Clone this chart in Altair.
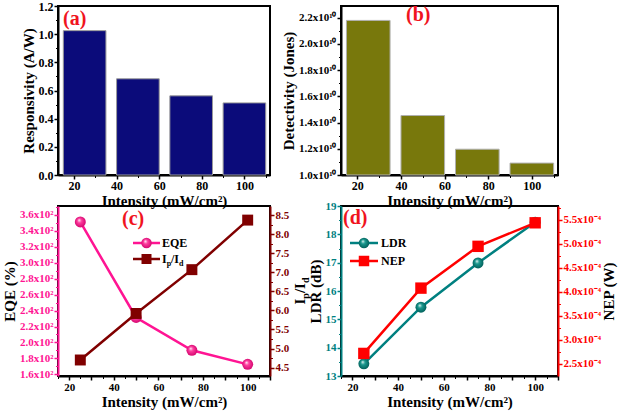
import altair as alt
import pandas as pd

# ---------------- data ----------------
bar_intensity = [25, 50, 75, 100]
responsivity = [1.025, 0.683, 0.562, 0.512]
detectivity = [2.18e10, 1.454e10, 1.197e10, 1.091e10]

line_intensity = [25, 50, 75, 100]
eqe = [351.0, 231.3, 190.2, 172.6]
ip_id = [4.70, 5.92, 7.07, 8.37]
ldr = [13.43, 15.43, 16.99, 18.43]
nep = [2.72e-4, 4.08e-4, 4.95e-4, 5.44e-4]

bar_ticks = [20, 40, 60, 80, 100]
bar_minor = [30, 50, 70, 90, 110]
line_ticks = [20, 30, 40, 50, 60, 70, 80, 90, 100, 110]
line_minor = [15, 25, 35, 45, 55, 65, 75, 85, 95, 105]
resp_ticks = [0.0, 0.2, 0.4, 0.6, 0.8, 1.0, 1.2]
resp_minor = [0.1, 0.3, 0.5, 0.7, 0.9, 1.1]
det_ticks = [1.0e10, 1.2e10, 1.4e10, 1.6e10, 1.8e10, 2.0e10, 2.2e10]
det_minor = [1.1e10, 1.3e10, 1.5e10, 1.7e10, 1.9e10, 2.1e10]
eqe_ticks = [160, 180, 200, 220, 240, 260, 280, 300, 320, 340, 360]
eqe_minor = [170, 190, 210, 230, 250, 270, 290, 310, 330, 350, 370]
ipid_ticks = [4.5, 5.0, 5.5, 6.0, 6.5, 7.0, 7.5, 8.0, 8.5]
ipid_minor = [4.75, 5.25, 5.75, 6.25, 6.75, 7.25, 7.75, 8.25]
ldr_ticks = [13, 14, 15, 16, 17, 18, 19]
ldr_minor = [13.5, 14.5, 15.5, 16.5, 17.5, 18.5]
nep_ticks = [2.5e-4, 3.0e-4, 3.5e-4, 4.0e-4, 4.5e-4, 5.0e-4, 5.5e-4]
nep_minor = [2.75e-4, 3.25e-4, 3.75e-4, 4.25e-4, 4.75e-4, 5.25e-4, 5.75e-4]

# ---------------- styles ----------------
SERIF = "Liberation Serif"
NAVY = "#0b0b7a"
OLIVE = "#78780c"
PINK = "#ff1493"
DARKRED = "#800000"
TEAL = "#008080"
RED = "#ff0000"
LABEL_RED = "#f0141e"

W1, W2 = 212, 217
H1, H2 = 169, 170
XTITLE = "Intensity (mW/cm²)"
BAR_DOMAIN = [12.5, 112]
LINE_DOMAIN = [15, 110]


def txt(s, x, y, size, color="black", angle=0, align="left", baseline="alphabetic"):
    return alt.Chart(pd.DataFrame({"t": [s]})).mark_text(
        font=SERIF, fontWeight="bold", fontSize=size, color=color,
        align=align, baseline=baseline, angle=angle
    ).encode(x=alt.value(x), y=alt.value(y), text="t:N")


def legend_row(x0, x1, y, color, shape, fill, size):
    df = pd.DataFrame({"k": [0]})
    rule = alt.Chart(df).mark_rule(color=color, strokeWidth=2.5).encode(
        x=alt.value(x0), x2=alt.value(x1), y=alt.value(y))
    pt = alt.Chart(df).mark_point(shape=shape, filled=True, fill=fill, size=size,
                                  opacity=1).encode(
        x=alt.value((x0 + x1) / 2), y=alt.value(y))
    return [rule, pt]


def sphere(base, dark):
    return alt.RadialGradient(
        gradient="radial", x1=0.38, y1=0.32, r1=0.0, x2=0.5, y2=0.5, r2=0.55,
        stops=[alt.GradientStop(offset=0.0, color="#ffffff"),
               alt.GradientStop(offset=0.35, color=base),
               alt.GradientStop(offset=1.0, color=dark)])


def minor_axis(values, orient, color="black"):
    return alt.Axis(values=values, orient=orient, labels=False, domain=False, title=None,
                    ticks=True, tickSize=2.5, tickWidth=1, tickColor=color)


# ---------------- panel (a) ----------------
df_a = pd.DataFrame({"intensity": bar_intensity, "responsivity": responsivity})
base_a = alt.Chart(df_a).transform_calculate(
    x0="datum.intensity - 10", x1="datum.intensity + 10")
bars_a = base_a.mark_bar(color=NAVY, stroke="#9a9a9a", strokeWidth=1).encode(
    x=alt.X("x0:Q", scale=alt.Scale(domain=BAR_DOMAIN, nice=False, zero=False),
            axis=alt.Axis(values=bar_ticks, format="d", title=XTITLE, orient="bottom",
                          labelFontSize=12)),
    x2="x1:Q",
    y=alt.Y("responsivity:Q", scale=alt.Scale(domain=[0, 1.2], nice=False),
            axis=alt.Axis(values=resp_ticks, format=".1f", title="Responsivity (A/W)",
                          orient="left", labelFontSize=12)),
    y2=alt.datum(0),
)
minor_a = base_a.mark_point(opacity=0).encode(
    x=alt.X("x0:Q", scale=alt.Scale(domain=BAR_DOMAIN, nice=False, zero=False),
            axis=minor_axis(bar_minor, "bottom")),
    y=alt.Y("responsivity:Q", scale=alt.Scale(domain=[0, 1.2], nice=False),
            axis=minor_axis(resp_minor, "left")),
)
panel_a = alt.layer(bars_a, minor_a, txt("(a)", 5, 19, 20, LABEL_RED)).resolve_axis(
    x="independent", y="independent").properties(width=W1, height=H1)

# ---------------- panel (b) ----------------
df_b = pd.DataFrame({"intensity": bar_intensity, "detectivity": detectivity})
base_b = alt.Chart(df_b).transform_calculate(
    x0="datum.intensity - 10", x1="datum.intensity + 10")
bars_b = base_b.mark_bar(color=OLIVE, stroke="#b0b0b0", strokeWidth=1).encode(
    x=alt.X("x0:Q", scale=alt.Scale(domain=BAR_DOMAIN, nice=False, zero=False),
            axis=alt.Axis(values=bar_ticks, format="d", title=XTITLE, orient="bottom",
                          labelFontSize=12)),
    x2="x1:Q",
    y=alt.Y("detectivity:Q", scale=alt.Scale(domain=[1.0e10, 2.29e10], nice=False, zero=False),
            axis=alt.Axis(values=det_ticks, title="Detectivity (Jones)", orient="left",
                          labelExpr="format(datum.value / 1e10, '.1f') + 'x10¹⁰'")),
    y2=alt.datum(1.0e10),
)
minor_b = base_b.mark_point(opacity=0).encode(
    x=alt.X("x0:Q", scale=alt.Scale(domain=BAR_DOMAIN, nice=False, zero=False),
            axis=minor_axis(bar_minor, "bottom")),
    y=alt.Y("detectivity:Q", scale=alt.Scale(domain=[1.0e10, 2.29e10], nice=False, zero=False),
            axis=minor_axis(det_minor, "left")),
)
panel_b = alt.layer(bars_b, minor_b, txt("(b)", 65, 15, 20, LABEL_RED)).resolve_axis(
    x="independent", y="independent").properties(width=W2, height=H1)

# ---------------- panel (c) ----------------
df_c = pd.DataFrame({"intensity": line_intensity, "eqe": eqe, "ipid": ip_id})
xsc = alt.Scale(domain=LINE_DOMAIN, nice=False, zero=False)
xc = alt.X("intensity:Q", scale=xsc,
           axis=alt.Axis(values=line_ticks, format="d", title=XTITLE, orient="bottom"))
xc_none = alt.X("intensity:Q", scale=xsc, axis=None)
eqe_scale = alt.Scale(domain=[158, 371], nice=False, zero=False)
ip_scale = alt.Scale(domain=[4.28, 8.74], nice=False, zero=False)
y_eqe = alt.Y("eqe:Q", scale=eqe_scale,
              axis=alt.Axis(values=eqe_ticks, title="EQE (%)", orient="left",
                            labelExpr="format(datum.value / 100, '.1f') + 'x10²'",
                            labelColor=PINK, domainColor=PINK, tickColor=PINK))
y_eqe_none = alt.Y("eqe:Q", scale=eqe_scale, axis=None)
y_ip = alt.Y("ipid:Q", scale=ip_scale,
             axis=alt.Axis(values=ipid_ticks, format=".1f", title=None, orient="right",
                           labelColor=DARKRED, domainColor=DARKRED, tickColor=DARKRED))
y_ip_none = alt.Y("ipid:Q", scale=ip_scale, axis=None)
base_c = alt.Chart(df_c)
c_layers = [
    base_c.mark_line(color=PINK, strokeWidth=2.5).encode(x=xc, y=y_eqe),
    base_c.mark_point(shape="circle", filled=True, fill=sphere("#ff3fa0", "#d0006a"),
                      size=120, opacity=1).encode(x=xc_none, y=y_eqe_none),
    base_c.mark_line(color=DARKRED, strokeWidth=2.5).encode(x=xc_none, y=y_ip),
    base_c.mark_point(shape="square", filled=True, color=DARKRED, size=120,
                      opacity=1).encode(x=xc_none, y=y_ip_none),
    base_c.mark_point(opacity=0).encode(
        x=alt.X("intensity:Q", scale=xsc, axis=minor_axis(line_minor, "bottom")),
        y=alt.Y("eqe:Q", scale=eqe_scale, axis=minor_axis(eqe_minor, "left", PINK))),
    base_c.mark_point(opacity=0).encode(
        x=xc_none,
        y=alt.Y("ipid:Q", scale=ip_scale, axis=minor_axis(ipid_minor, "right", DARKRED))),
]
c_layers += [txt("(c)", 64, 19, 20, LABEL_RED)]
c_layers += legend_row(75, 102, 37, PINK, "circle", sphere("#ff3fa0", "#d0006a"), 110)
c_layers += legend_row(75, 102, 53, DARKRED, "square", DARKRED, 100)
c_layers += [txt("EQE", 104, 37, 12, baseline="middle"),
             txt("I", 104, 57, 12), txt("p", 108.7, 60, 8),
             txt("/I", 113.0, 57, 12), txt("d", 121.0, 60, 8)]
# rotated right-axis title I_p/I_d
c_layers += [txt("I", 247, 98.5, 15, angle=270), txt("p", 251, 92.7, 10, angle=270),
             txt("/I", 247, 87.1, 15, angle=270), txt("d", 251, 77.1, 10, angle=270)]
panel_c = alt.layer(*c_layers).resolve_scale(y="independent").resolve_axis(
    x="independent", y="independent").properties(width=W1, height=H2)

# ---------------- panel (d) ----------------
df_d = pd.DataFrame({"intensity": line_intensity, "ldr": ldr, "nep": nep})
ldr_scale = alt.Scale(domain=[13, 19], nice=False, zero=False)
nep_scale = alt.Scale(domain=[2.25e-4, 5.79e-4], nice=False, zero=False)
y_ldr = alt.Y("ldr:Q", scale=ldr_scale,
              axis=alt.Axis(values=ldr_ticks, format="d", title="LDR (dB)", orient="left",
                            labelColor=TEAL, domainColor=TEAL, tickColor=TEAL))
y_ldr_none = alt.Y("ldr:Q", scale=ldr_scale, axis=None)
y_nep = alt.Y("nep:Q", scale=nep_scale,
              axis=alt.Axis(values=nep_ticks, title="NEP (W)", orient="right", titleAngle=270,
                            titleBaseline="top", titlePadding=1,
                            labelExpr="format(datum.value * 1e4, '.1f') + 'x10⁻⁴'",
                            labelColor=RED, domainColor=RED, tickColor=RED))
y_nep_none = alt.Y("nep:Q", scale=nep_scale, axis=None)
base_d = alt.Chart(df_d)
d_layers = [
    base_d.mark_line(color=TEAL, strokeWidth=2.5).encode(x=xc, y=y_ldr),
    base_d.mark_point(shape="circle", filled=True, fill=sphere("#1a9a90", "#005a55"),
                      size=120, opacity=1).encode(x=xc_none, y=y_ldr_none),
    base_d.mark_line(color=RED, strokeWidth=2.5).encode(x=xc_none, y=y_nep),
    base_d.mark_point(shape="square", filled=True, color=RED, size=130,
                      opacity=1).encode(x=xc_none, y=y_nep_none),
    base_d.mark_point(opacity=0).encode(
        x=alt.X("intensity:Q", scale=xsc, axis=minor_axis(line_minor, "bottom")),
        y=alt.Y("ldr:Q", scale=ldr_scale, axis=minor_axis(ldr_minor, "left", TEAL))),
    base_d.mark_point(opacity=0).encode(
        x=xc_none,
        y=alt.Y("nep:Q", scale=nep_scale, axis=minor_axis(nep_minor, "right", RED))),
]
d_layers += [txt("(d)", 2, 18, 20, LABEL_RED)]
d_layers += legend_row(9, 37, 37, TEAL, "circle", sphere("#1a9a90", "#005a55"), 110)
d_layers += legend_row(9, 37, 55, RED, "square", RED, 110)
d_layers += [txt("LDR", 40, 37, 12, baseline="middle"), txt("NEP", 40, 55, 12, baseline="middle")]
panel_d = alt.layer(*d_layers).resolve_scale(y="independent").resolve_axis(
    x="independent", y="independent").properties(width=W2, height=H2)

# ---------------- assemble ----------------
chart = alt.concat(panel_a, panel_b, panel_c, panel_d, columns=2,
                   spacing={"row": 31, "column": 71}, bounds="flush").properties(
    autosize=alt.AutoSizeParams(type="none"),
    padding={"left": 58, "top": 6, "right": 620 - 58, "bottom": 411 - 6},
    background="white",
).configure_view(stroke="black", strokeWidth=2).configure_axis(
    labelFont=SERIF, labelFontWeight="bold", labelFontSize=11, labelColor="black",
    titleFont=SERIF, titleFontWeight="bold", titleFontSize=15, titleColor="black",
    grid=False, tickSize=4, tickWidth=1.5, domainWidth=2, domainColor="black",
    tickColor="black", labelPadding=1, titlePadding=2,
)

chart.save("out.html", embed_options={"renderer": "svg", "actions": False})
